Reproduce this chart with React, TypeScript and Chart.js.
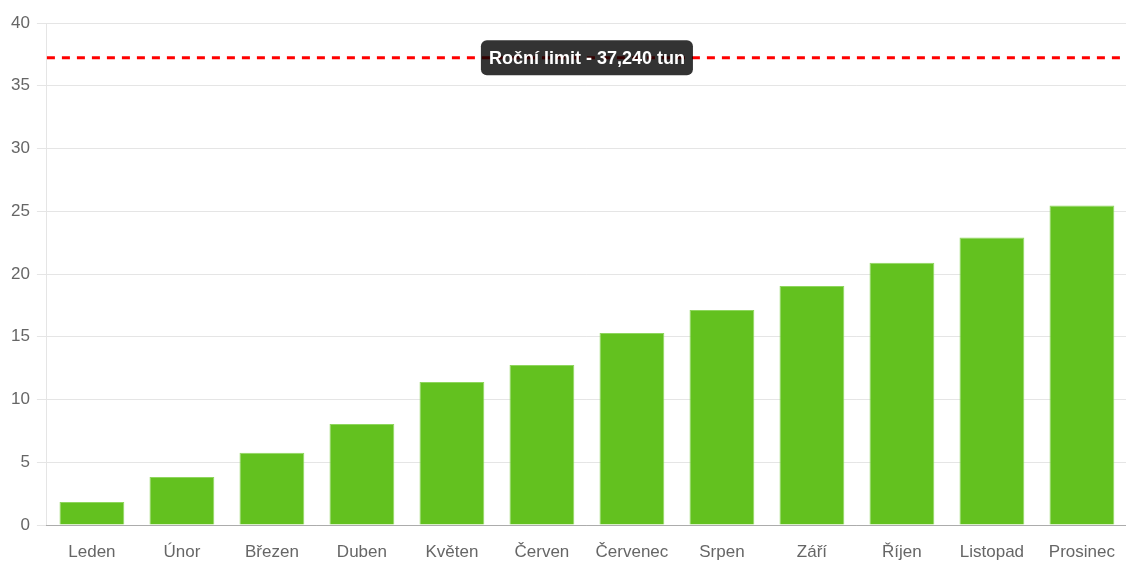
import React, { useEffect, useRef } from "react";
import { Chart, registerables } from "chart.js";

Chart.register(...registerables);

const MONTHS: string[] = [
  "Leden", "Únor", "Březen", "Duben", "Květen", "Červen",
  "Červenec", "Srpen", "Září", "Říjen", "Listopad", "Prosinec",
];
const VALUES: number[] = [1.83, 3.82, 5.75, 8.05, 11.4, 12.75, 15.3, 17.13, 19.05, 20.9, 22.9, 25.45];
const LIMIT: number = 37.24;
const LIMIT_LABEL: string = "Roční limit - 37,240 tun";
const Y_MIN = 0;
const Y_MAX = 40;
const Y_STEP = 5;

const FONT = "Arial, 'Liberation Sans', Helvetica, sans-serif";

const limitPlugin = {
  id: "limitLine",
  afterDatasetsDraw(chart: any) {
    const { ctx, chartArea, scales } = chart;
    const py = scales.y.getPixelForValue(LIMIT);
    ctx.save();
    ctx.strokeStyle = "#ff0000";
    ctx.lineWidth = 3;
    ctx.setLineDash([8, 7]);
    ctx.beginPath();
    ctx.moveTo(chartArea.left, py);
    ctx.lineTo(chartArea.right, py);
    ctx.stroke();
    ctx.setLineDash([]);

    ctx.font = `bold 18px ${FONT}`;
    const tw = ctx.measureText(LIMIT_LABEL).width;
    const padX = 8;
    const h = 35;
    const w = tw + padX * 2;
    const cx = (chartArea.left + chartArea.right) / 2;
    const x = cx - w / 2;
    const y = py - h / 2;
    ctx.fillStyle = "rgba(0,0,0,0.8)";
    ctx.beginPath();
    (ctx as any).roundRect(x, y, w, h, 6);
    ctx.fill();
    ctx.fillStyle = "#ffffff";
    ctx.textAlign = "center";
    ctx.textBaseline = "middle";
    ctx.fillText(LIMIT_LABEL, cx, py + 1);
    ctx.restore();
  },
};

export default function App() {
  const ref = useRef<HTMLCanvasElement | null>(null);

  useEffect(() => {
    if (!ref.current) return;
    const chart = new Chart(ref.current, {
      type: "bar",
      data: {
        labels: MONTHS,
        datasets: [
          {
            data: VALUES,
            backgroundColor: "#63c11f",
            borderColor: "#8fd65e",
            borderWidth: 1,
            barPercentage: 0.9,
            categoryPercentage: 0.8,
          },
        ],
      },
      options: {
        animation: false,
        responsive: true,
        maintainAspectRatio: false,
        layout: { padding: { left: 4, top: 23, right: 0, bottom: 0 } },
        plugins: {
          legend: { display: false },
          tooltip: { enabled: false },
        },
        scales: {
          x: {
            grid: { display: false, drawTicks: false },
            border: { display: true, color: "rgba(0,0,0,0.25)" },
            ticks: { color: "#666", font: { family: FONT, size: 17 }, padding: 17 },
            afterFit: (scale: any) => {
              scale.height = 36;
            },
          },
          y: {
            min: Y_MIN,
            max: Y_MAX,
            grid: { color: "rgba(0,0,0,0.1)", tickLength: 10 },
            border: { display: true, color: "rgba(0,0,0,0.1)" },
            ticks: { stepSize: Y_STEP, color: "#666", font: { family: FONT, size: 17 }, padding: 7 },
          },
        },
      },
      plugins: [limitPlugin],
    });
    return () => chart.destroy();
  }, []);

  return (
    <div style={{ position: "absolute", left: 0, top: 0, width: 1126, height: 561, overflow: "hidden", background: "#fff" }}>
      <div style={{ position: "relative", width: 1132, height: 561 }}>
        <canvas ref={ref} />
      </div>
    </div>
  );
}
